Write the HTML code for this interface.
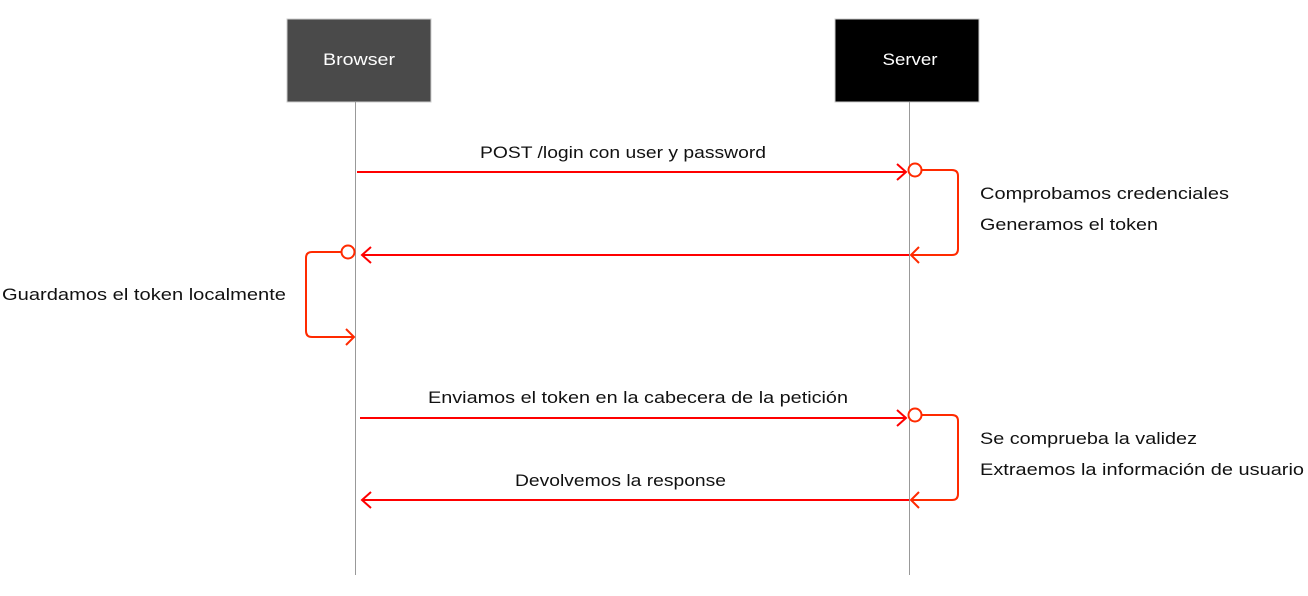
<!DOCTYPE html>
<html><head><meta charset="utf-8"><style>body{margin:0;background:#fff}svg{display:block}</style></head>
<body>
<svg width="1308" height="596" viewBox="0 0 1308 596" xmlns="http://www.w3.org/2000/svg" font-family="Liberation Sans, sans-serif" font-size="17" fill="#111">
<rect x="287" y="19" width="144" height="83" fill="#4a4a4a" stroke="#ccc"/>
<rect x="835" y="19" width="144" height="83" fill="#000" stroke="#ccc"/>
<text x="359" y="65" fill="#fff" text-anchor="middle" textLength="72" lengthAdjust="spacingAndGlyphs">Browser</text>
<text x="910" y="65" fill="#fff" text-anchor="middle" textLength="55" lengthAdjust="spacingAndGlyphs">Server</text>
<line x1="355.5" y1="102" x2="355.5" y2="575" stroke="#999"/>
<line x1="909.5" y1="102" x2="909.5" y2="575" stroke="#999"/>
<g stroke="#f00" stroke-width="2" fill="none">
<line x1="357" y1="172" x2="906" y2="172"/>
<polyline points="897,164 906,172 897,180"/>
<line x1="362" y1="255" x2="909" y2="255"/>
<polyline points="371,247 362,255 371,263"/>
<line x1="360" y1="418" x2="906" y2="418"/>
<polyline points="897,410 906,418 897,426"/>
<line x1="362" y1="500" x2="909" y2="500"/>
<polyline points="371,492 362,500 371,508"/>
</g>
<g stroke="#ff2a00" stroke-width="2" fill="none">
<circle cx="915" cy="170" r="6.5" fill="#fff"/>
<path d="M922 170 H952 Q958 170 958 176 V249 Q958 255 952 255 H911"/>
<polyline points="919,247 911,255 919,263"/>
<circle cx="915" cy="415" r="6.5" fill="#fff"/>
<path d="M922 415 H952 Q958 415 958 421 V494 Q958 500 952 500 H911"/>
<polyline points="919,492 911,500 919,508"/>
<circle cx="348" cy="252" r="6.5" fill="#fff"/>
<path d="M341 252 H312 Q306 252 306 258 V331 Q306 337 312 337 H354"/>
<polyline points="346,329 354,337 346,345"/>
</g>
<text x="480" y="158" textLength="286" lengthAdjust="spacingAndGlyphs">POST /login con user y password</text>
<text x="980" y="199" textLength="249" lengthAdjust="spacingAndGlyphs">Comprobamos credenciales</text>
<text x="980" y="230" textLength="178" lengthAdjust="spacingAndGlyphs">Generamos el token</text>
<text x="2" y="300" textLength="284" lengthAdjust="spacingAndGlyphs">Guardamos el token localmente</text>
<text x="428" y="403" textLength="420" lengthAdjust="spacingAndGlyphs">Enviamos el token en la cabecera de la petición</text>
<text x="980" y="444" textLength="217" lengthAdjust="spacingAndGlyphs">Se comprueba la validez</text>
<text x="980" y="475" textLength="324" lengthAdjust="spacingAndGlyphs">Extraemos la información de usuario</text>
<text x="515" y="486" textLength="211" lengthAdjust="spacingAndGlyphs">Devolvemos la response</text>
</svg>
</body></html>
